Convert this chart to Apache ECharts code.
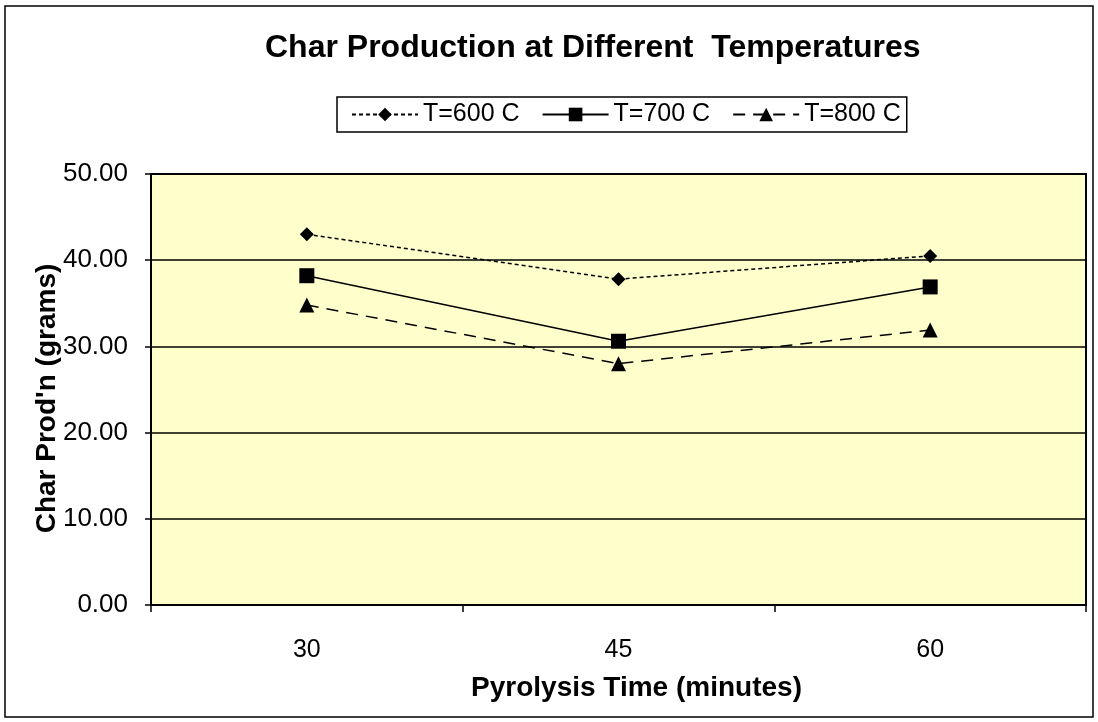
<!DOCTYPE html>
<html>
<head>
<meta charset="utf-8">
<script src="https://cdn.jsdelivr.net/npm/echarts@6/dist/echarts.min.js"></script>
<style>html,body{margin:0;padding:0;background:#fff;}#c{width:1098px;height:722px;}</style>
</head>
<body>
<div id="c"></div>
<script>
const categories = ['30', '45', '60'];
const t600 = [43.0, 37.8, 40.5];
const t700 = [38.2, 30.6, 36.9];
const t800 = [34.8, 28.0, 31.9];
const seriesNames = ['T=600 C', 'T=700 C', 'T=800 C'];
const yTicks = { min: 0, max: 50, interval: 10 };

const font = 'Liberation Sans, Arial, sans-serif';
const chart = echarts.init(document.getElementById('c'));
chart.setOption({
  animation: false,
  backgroundColor: '#fff',
  title: {
    text: 'Char Production at Different  Temperatures',
    left: 260, top: 27,
    textStyle: { fontFamily: font, fontSize: 32, fontWeight: 'bold', color: '#000' }
  },
  legend: {
    left: 337, top: 97,
    padding: [5, 6, 5, 14],
    itemGap: 22,
    itemWidth: 66, itemHeight: 17,
    borderColor: '#000', borderWidth: 1.5,
    backgroundColor: '#fff',
    textStyle: { fontFamily: font, fontSize: 25, color: '#000' },
    data: seriesNames
  },
  graphic: [{
    type: 'rect', silent: true,
    shape: { x: 5, y: 6, width: 1088, height: 711 },
    style: { fill: 'none', stroke: '#000', lineWidth: 1.5 }
  }],
  grid: {
    left: 151, right: 12, top: 174, bottom: 117,
    show: true, backgroundColor: '#FFFFCC', borderColor: '#000', borderWidth: 2
  },
  xAxis: {
    type: 'category', data: categories, boundaryGap: true,
    name: 'Pyrolysis Time (minutes)', nameLocation: 'middle', nameGap: 69,
    nameMoveOverlap: false,
    nameTextStyle: { fontFamily: font, fontSize: 28, fontWeight: 'bold', color: '#000', padding: [0, 0, 0, 36] },
    axisLine: { lineStyle: { color: '#000', width: 2 } },
    axisTick: { show: true, length: 7, lineStyle: { color: '#000', width: 1.5 } },
    axisLabel: { margin: 33, fontFamily: font, fontSize: 25, color: '#000' }
  },
  yAxis: {
    type: 'value', min: yTicks.min, max: yTicks.max, interval: yTicks.interval,
    name: "Char Prod'n (grams)", nameLocation: 'middle', nameGap: 90,
    nameMoveOverlap: false,
    nameTextStyle: { fontFamily: font, fontSize: 28, fontWeight: 'bold', color: '#000', padding: [0, 18, 0, 0] },
    axisLine: { show: true, lineStyle: { color: '#000', width: 2 } },
    axisTick: { show: true, length: 6, lineStyle: { color: '#000', width: 1.5 } },
    axisLabel: { margin: 23, fontFamily: font, fontSize: 26, color: '#000',
      formatter: v => v.toFixed(2) },
    splitLine: { show: true, lineStyle: { color: '#000', width: 1.5 } }
  },
  series: [
    { name: seriesNames[0], type: 'line', data: t600, symbol: 'diamond', symbolSize: 14,
      lineStyle: { color: '#000', width: 1.5, type: [4, 3] }, itemStyle: { color: '#000' } },
    { name: seriesNames[1], type: 'line', data: t700, symbol: 'rect', symbolSize: 15,
      lineStyle: { color: '#000', width: 1.5, type: 'solid' }, itemStyle: { color: '#000' } },
    { name: seriesNames[2], type: 'line', data: t800, symbol: 'triangle', symbolSize: 15,
      lineStyle: { color: '#000', width: 1.5, type: [12, 8] }, itemStyle: { color: '#000' } }
  ]
});
</script>
</body>
</html>
